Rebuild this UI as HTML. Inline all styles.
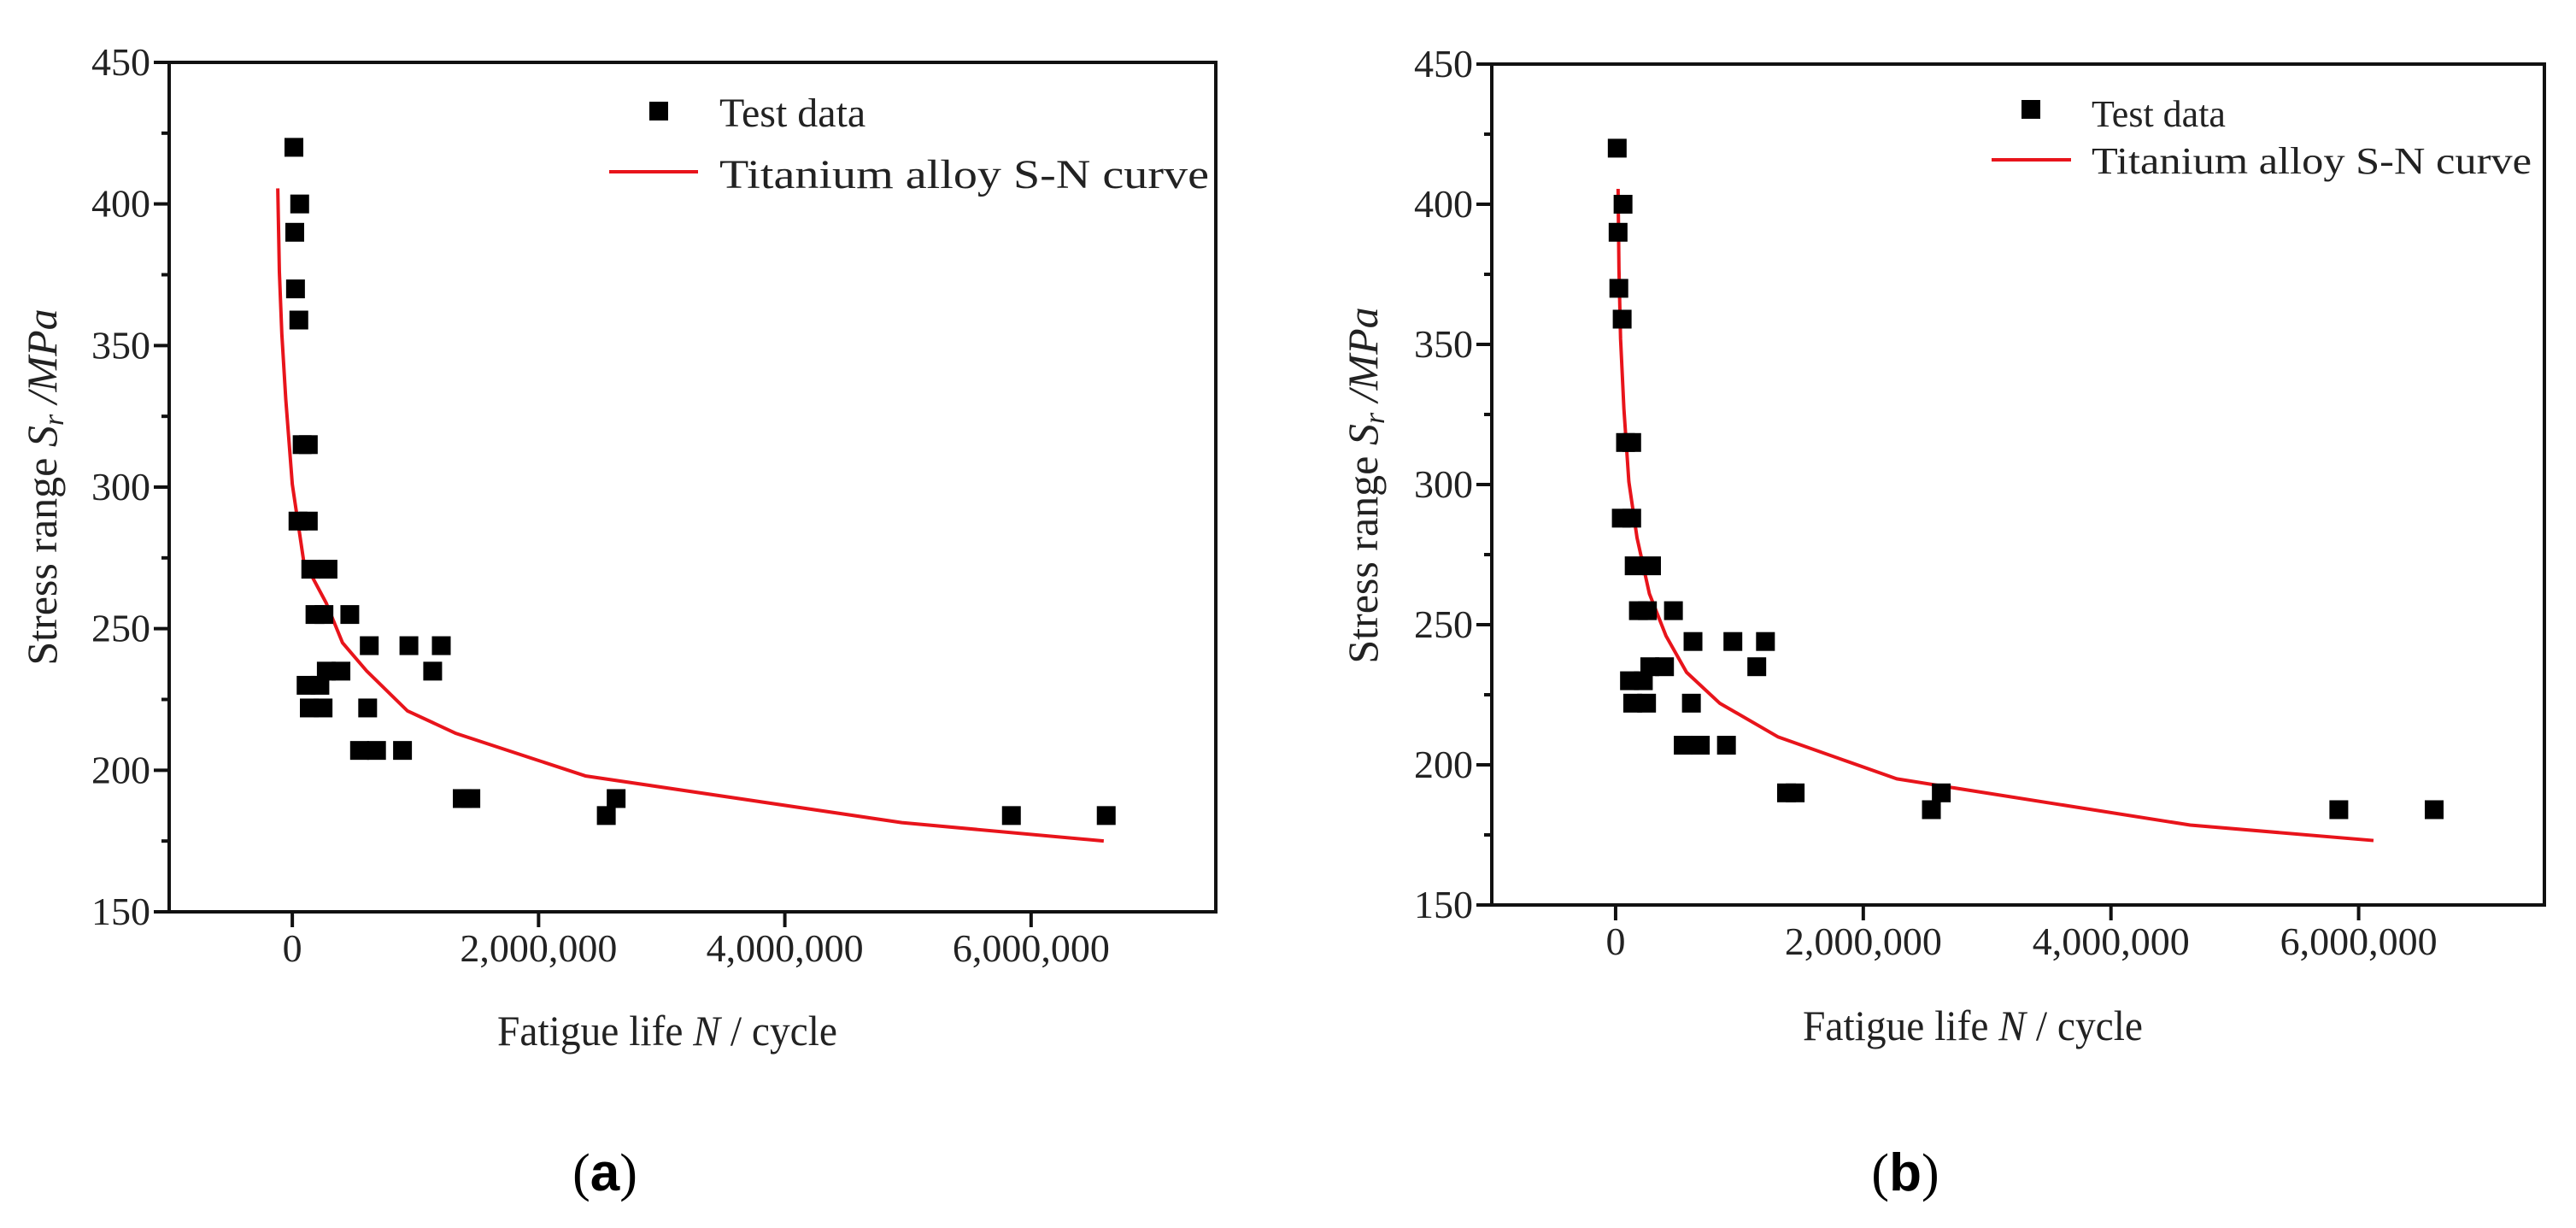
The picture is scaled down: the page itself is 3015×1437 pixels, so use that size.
<!DOCTYPE html>
<html><head><meta charset="utf-8"><style>
html,body{margin:0;padding:0;background:#fff;}
svg{display:block;font-family:"Liberation Serif",serif;}
</style></head><body>
<svg id="fig" width="3015" height="1437" viewBox="0 0 3015 1437" xmlns="http://www.w3.org/2000/svg"></svg>
<script>
// ---- data ----
const testN = [13000,60000,20000,26000,53000,80000,130000,46000,130000,150000,290000,184000,257000,467000,625000,947000,1210000,1140000,276000,395000,112000,224000,138000,250000,612000,546000,684000,895000,1380000,1450000,2550000,2630000,5840000,6610000];
const testS = [420,400,390,370,359,315,315,288,288,271,271,255,255,255,244,244,244,235,235,235,230,230,222,222,222,207,207,207,190,190,184,190,184,184];
const curveNa = [-118000,-105000,-85000,-53000,0,92000,276000,408000,605000,934000,1330000,2380000,4950000,6590000];
const curveSa = [405.5,376,354,331,301,274,259,245,235,221,213,198,181.5,175];
const curveNb = [20000,27000,40000,67000,107000,173000,273000,407000,573000,840000,1310000,2270000,4640000,6120000];
const curveSb = [405.5,377,352,327,301,281,261,246,233,222,210,195,178.5,173];
const yTicks = [150,200,250,300,350,400,450];
const yTickLabels = ["150","200","250","300","350","400","450"];
const xTicks = [0,2000000,4000000,6000000];
const xTickLabels = ["0","2,000,000","4,000,000","6,000,000"];
const xDomain = [-1000000,7500000];
const yDomain = [150,450];

const NS="http://www.w3.org/2000/svg";
const svg=document.getElementById('fig');
function mk(tag,attrs,parent,text){const e=document.createElementNS(NS,tag);for(const k in attrs)e.setAttribute(k,attrs[k]);if(text!==undefined)e.textContent=text;(parent||svg).appendChild(e);return e;}

function drawChart(cfg){
  const g=mk('g',{});
  
  
  const L=cfg.L,R=cfg.R,T=cfg.T,B=cfg.B;
  const sx=v=>L+(v-xDomain[0])/(xDomain[1]-xDomain[0])*(R-L);
  const sy=v=>B-(v-yDomain[0])/(yDomain[1]-yDomain[0])*(B-T);
  const fr=mk('rect',{x:L,y:T,width:R-L,height:B-T,fill:'none',stroke:'#111','stroke-width':4},g);
  
  
  yTicks.forEach((t,i)=>{
    const y=sy(t);
    const tk=mk('line',{x1:L-18,x2:L,y1:y,y2:y,stroke:'#111','stroke-width':4},g);
    
    
    if(i<yTicks.length-1){
      const ym=sy(t+25);
      const mt=mk('line',{x1:L-9,x2:L,y1:ym,y2:ym,stroke:'#111','stroke-width':4},g);
      
      
    }
    const lb=mk('text',{x:L-22,y:y+15,'text-anchor':'end','font-size':46,fill:'#222'},g,yTickLabels[i]);
    
    
  });
  xTicks.forEach((t,i)=>{
    const x=sx(t);
    const tk=mk('line',{x1:x,x2:x,y1:B,y2:B+18,stroke:'#111','stroke-width':4},g);
    
    
    const lb=mk('text',{x:x,y:B+58,'text-anchor':'middle','font-size':46,fill:'#222'},g,xTickLabels[i]);
    
    
  });
  const pts=cfg.cN.map((n,i)=>sx(n)+','+sy(cfg.cS[i])).join(' ');
  const cv=mk('polyline',{points:pts,fill:'none',stroke:'#e8141b','stroke-width':4,'stroke-linejoin':'round'},g);
  
  
  testN.forEach((n,i)=>{
    const p=mk('rect',{x:sx(n)-11,y:sy(testS[i])-11,width:22,height:22,fill:'#000'},g);
    
    
  });
  const lm=mk('rect',{x:cfg.lgMx-11,y:cfg.lgMy-11,width:22,height:22,fill:'#000'},g);
  
  
  const lt1=mk('text',{x:cfg.lgTx,y:cfg.lgT1y,'font-size':cfg.lgFs,fill:'#222'},g,'Test data');
  
  
  const ll=mk('line',{x1:cfg.lgL1,x2:cfg.lgL2,y1:cfg.lgLy,y2:cfg.lgLy,stroke:'#e8141b','stroke-width':4},g);
  
  
  const lt2=mk('text',{x:cfg.lgTx,y:cfg.lgT2y,'font-size':cfg.lgFs,fill:'#222',textLength:cfg.lgW,lengthAdjust:'spacingAndGlyphs'},g,'Titanium alloy S-N curve');
  
  
  const xt=mk('text',{x:cfg.xtX,y:cfg.xtY,'font-size':50,fill:'#222',textLength:398,lengthAdjust:'spacingAndGlyphs'},g);
  
  
  mk('tspan',{},xt,'Fatigue life  ');
  mk('tspan',{'font-style':'italic'},xt,'N');
  mk('tspan',{},xt,' / cycle');
  const yt=mk('text',{x:0,y:0,'font-size':50,fill:'#222','text-anchor':'middle',transform:`translate(${cfg.ytX},${cfg.ytY}) rotate(-90)`},g);
  
  
  mk('tspan',{},yt,'Stress range ');
  mk('tspan',{'font-style':'italic'},yt,'S');
  mk('tspan',{'font-style':'italic','font-size':34,dy:8},yt,'r');
  mk('tspan',{'font-style':'italic',dy:-8},yt,' /MPa');
  const cp=mk('text',{x:cfg.capX,y:1393,'text-anchor':'middle','font-size':62,fill:'#000'},g);
  
  
  mk('tspan',{},cp,'(');
  mk('tspan',{'font-weight':'bold','font-family':'Liberation Sans, sans-serif'},cp,cfg.cap);
  mk('tspan',{},cp,')');
}

drawChart({name:'chart-a',L:198,R:1423,T:73,B:1067,cN:curveNa,cS:curveSa,
  lgMx:771,lgMy:130,lgTx:842,lgT1y:148,lgT2y:220,lgL1:713,lgL2:817,lgLy:201,lgFs:48,lgW:573,
  xtX:582,xtY:1223,ytX:66,ytY:570,capX:708,cap:'a'});
drawChart({name:'chart-b',L:1746,R:2978,T:75,B:1059,cN:curveNb,cS:curveSb,
  lgMx:2377,lgMy:128,lgTx:2448,lgT1y:148,lgT2y:203,lgL1:2331,lgL2:2424,lgLy:187,lgFs:44,lgW:515,
  xtX:2110,xtY:1217,ytX:1612,ytY:568,capX:2230,cap:'b'});
</script>
</body></html>
